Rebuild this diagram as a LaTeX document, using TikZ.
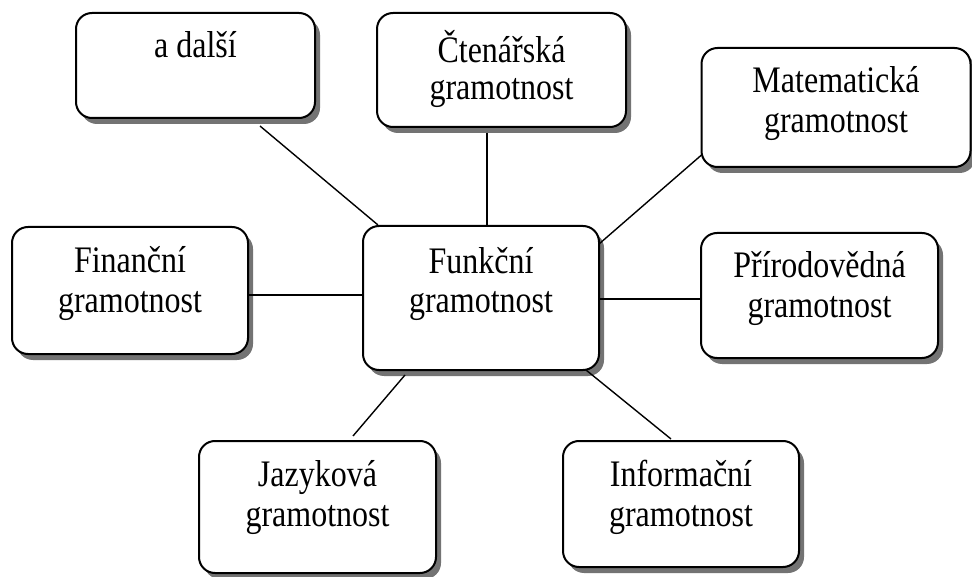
\documentclass[tikz,border=0pt]{standalone}
\usepackage{fontspec}
\usepackage{graphicx}
\setmainfont{Liberation Serif}
\usetikzlibrary{shadows,calc}
\newcommand{\mybx}[4]{\parbox[c][#1pt][t]{#2pt}{\centering\rule{0pt}{#3pt}#4}}
\newcommand{\tl}[1]{\scalebox{1}[1.17]{#1}}
\begin{document}
\begin{tikzpicture}[x=1pt,y=-1pt,
  gbox/.style={draw=black, line width=2pt, rounded corners=16pt, fill=white,
    inner sep=0pt, outer sep=0pt,
    drop shadow={shadow xshift=5pt, shadow yshift=-6pt, fill=black!55, opacity=1},
    font=\fontsize{32}{40}\selectfont},
  conn/.style={draw=black, line width=1.4pt}]
\useasboundingbox (0,0) rectangle (972,577);
\node[gbox] (dalsi) at (195.5,65.5) {\mybx{105}{239}{45}{\tl{a další}}};
\node[gbox] (cten) at (501.5,70) {\mybx{114}{249}{50}{\tl{Čtenářská}\\[-3pt]\tl{gramotnost}}};
\node[gbox] (mat) at (836,107.5) {\mybx{119}{269}{45}{\tl{Matematická}\\\tl{gramotnost}}};
\node[gbox] (fin) at (130,290.5) {\mybx{127}{236}{46}{\tl{Finanční}\\\tl{gramotnost}}};
\node[gbox] (fun) at (481,298) {\mybx{144}{236}{47}{\tl{Funkční}\\\tl{gramotnost}}};
\node[gbox] (prir) at (819.5,295.5) {\mybx{125}{237}{45}{\tl{Přírodovědná}\\\tl{gramotnost}}};
\node[gbox] (jaz) at (317.5,507) {\mybx{132}{237}{45}{\tl{Jazyková}\\\tl{gramotnost}}};
\node[gbox] (inf) at (681,504) {\mybx{126}{236}{45}{\tl{Informační}\\\tl{gramotnost}}};
\draw[conn] ($(dalsi.south)+(64.5,8)$) -- ($(fun.north west)+(15,-1)$);
\draw[conn] ($(cten.south)+(-14.5,6)$) -- ($(fun.north)+(6,0)$);
\draw[conn] ($(mat.south west)+(0,-12)$) -- ($(fun.north east)+(0,18)$);
\draw[conn] ($(fin.east)+(0,4.5)$) -- ($(fun.west)+(0,-3)$);
\draw[conn] ($(fun.east)+(0,1)$) -- ($(prir.west)+(0,3.5)$);
\draw[conn] ($(fun.south)+(-76,5)$) -- ($(jaz.north)+(35.5,-5)$);
\draw[conn] ($(fun.south east)+(-13,0)$) -- ($(inf.north)+(-10,-2)$);
\end{tikzpicture}
\end{document}
